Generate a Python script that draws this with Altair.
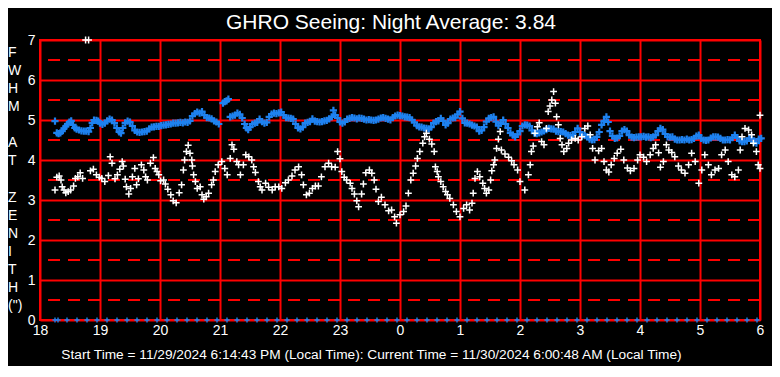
import json
import altair as alt
import pandas as pd

# ---- data (hours after 18:00, FWHM arcsec) ----
white_t = [0.25, 0.28, 0.32, 0.35, 0.37, 0.40, 0.43, 0.47, 0.51, 0.56, 0.59, 0.63, 0.67, 0.71, 0.76, 0.81,
           0.84, 0.89, 0.94, 0.99, 1.03, 1.08, 1.14, 1.17, 1.20, 1.25, 1.29, 1.33, 1.37, 1.39, 1.42, 1.44,
           1.48, 1.51, 1.54, 1.58, 1.61, 1.64, 1.69, 1.73, 1.76, 1.79, 1.84, 1.89, 1.92, 1.95, 1.98, 2.01,
           2.06, 2.09, 2.13, 2.18, 2.22, 2.27, 2.32, 2.36, 2.39, 2.41, 2.44, 2.47, 2.50, 2.53, 2.54, 2.56,
           2.59, 2.62, 2.67, 2.70, 2.73, 2.77, 2.81, 2.86, 2.89, 2.92, 2.97, 3.03, 3.08, 3.12, 3.17, 3.20,
           3.23, 3.28, 3.31, 3.34, 3.39, 3.43, 3.48, 3.53, 3.56, 3.59, 3.64, 3.67, 3.70, 3.76, 3.81, 3.87,
           3.92, 3.98, 4.03, 4.09, 4.14, 4.20, 4.25, 4.31,
           4.36, 4.39, 4.44, 4.49, 4.54, 4.59, 4.64, 4.69, 4.75, 4.81, 4.86, 4.92, 4.96, 5.00, 5.03, 5.07,
           5.11, 5.17, 5.20, 5.24, 5.28, 5.31, 5.36, 5.39, 5.43, 5.49, 5.53, 5.57, 5.60, 5.64, 5.69, 5.75,
           5.81, 5.86, 5.91, 5.94, 6.00, 6.06, 6.10, 6.14, 6.18, 6.22, 6.26, 6.29, 6.33, 6.38, 6.41, 6.44,
           6.49, 6.53, 6.57, 6.59, 6.62, 6.64, 6.68, 6.72, 6.76, 6.79, 6.83, 6.89, 6.94, 7.00, 7.06, 7.11,
           7.16, 7.20, 7.22, 7.25, 7.29, 7.33, 7.38, 7.41, 7.44, 7.48, 7.51, 7.53, 7.56, 7.58, 7.61, 7.64,
           7.67,
           7.69, 7.75, 7.81, 7.86, 7.90, 7.96, 8.00, 8.08, 8.14, 8.17, 8.19, 8.22, 8.25, 8.29, 8.32, 8.36,
           8.40, 8.44, 8.47, 8.50, 8.53, 8.56, 8.59, 8.61, 8.64, 8.67, 8.70, 8.73, 8.78, 8.81, 8.86, 8.92,
           8.97, 9.03, 9.08, 9.13, 9.17, 9.21, 9.25, 9.31, 9.36, 9.40, 9.44, 9.48, 9.52, 9.57, 9.62, 9.68,
           9.73, 9.79, 9.84, 9.90, 9.96, 10.00, 10.06, 10.11, 10.17, 10.22, 10.26, 10.31, 10.34, 10.39, 10.44, 10.48,
           10.53, 10.58, 10.64, 10.69, 10.75, 10.81, 10.86, 10.92, 10.98, 11.03, 11.08, 11.14, 11.19, 11.25, 11.31, 11.36,
           11.42, 11.47, 11.53, 11.58, 11.64, 11.67, 11.70, 11.75, 11.81, 11.86, 11.89, 11.94, 11.97, 12.00, 12.00]
white_v = [3.25, 3.57, 3.60, 3.50, 3.33, 3.25, 3.18, 3.21, 3.25, 3.35, 3.54, 3.58, 3.68, 3.54, 7.00, 7.00,
           3.73, 3.77, 3.63, 3.57, 3.54, 3.46, 3.61, 4.08, 3.92, 3.53, 3.63, 3.77, 3.96, 3.85, 3.52, 3.33,
           3.15, 3.29, 3.58, 3.79, 3.38, 3.53, 3.88, 3.75, 3.58, 3.50, 3.92, 4.06, 3.79, 3.71, 3.63, 3.48,
           3.50, 3.40, 3.27, 3.13, 2.98, 2.93, 3.18, 3.38, 3.75, 4.00, 4.21, 4.37, 4.17, 4.00, 3.85, 3.63,
           3.46, 3.29, 3.33, 3.13, 3.02, 3.08, 3.17, 3.38, 3.50, 3.71, 3.88, 3.96, 3.79, 3.63, 4.04, 4.38,
           4.27, 3.96, 3.88, 3.63, 3.88, 4.13, 4.08, 4.00, 3.83, 3.69, 3.46, 3.33, 3.25, 3.42, 3.32, 3.25,
           3.33, 3.33, 3.29, 3.43, 3.50, 3.60, 3.75, 3.83,
           3.63, 3.38, 3.13, 3.17, 3.29, 3.35, 3.35, 3.58, 3.83, 3.92, 3.83, 3.82, 4.21, 4.03, 3.71, 3.57,
           3.50, 3.42, 3.29, 3.15, 2.98, 2.83, 3.15, 3.40, 3.68, 3.75, 3.67, 3.50, 3.27, 2.96, 3.07, 2.88,
           2.73, 2.75, 2.58, 2.42, 2.63, 2.71, 2.85, 3.17, 3.50, 3.67, 3.85, 4.04, 4.21, 4.42, 4.58, 4.67,
           4.52, 4.40, 4.21, 3.83, 3.71, 3.58, 3.46, 3.33, 3.21, 3.13, 3.04, 2.88, 2.71, 2.58, 2.79, 2.88,
           2.75, 2.92, 3.17, 3.54, 3.71, 3.58, 3.42, 3.29, 3.17, 3.25, 3.50, 3.73, 3.88, 4.00, 4.29, 4.52,
           4.71,
           4.25, 4.15, 4.07, 3.98, 3.88, 3.75, 3.46, 3.25, 3.63, 3.88, 4.21, 4.35, 4.67, 4.83, 4.93, 4.46,
           4.38, 4.79, 5.21, 5.35, 5.50, 5.71, 5.42, 5.08, 4.88, 4.54, 4.38, 4.21, 4.29, 4.42, 4.50, 4.54,
           4.50, 4.58, 4.79, 4.85, 4.63, 4.29, 4.00, 4.23, 4.29, 3.96, 3.75, 3.70, 3.88, 4.04, 4.17, 4.27,
           4.00, 3.80, 3.73, 3.79, 4.00, 4.13, 4.07, 3.96, 4.13, 4.29, 4.38, 4.18, 3.82, 3.96, 4.38, 4.25,
           4.19, 4.08, 3.85, 3.75, 3.67, 3.88, 4.17, 3.96, 3.42, 3.75, 4.13, 3.88, 3.63, 3.75, 3.79, 4.13,
           4.25, 3.96, 3.63, 3.58, 3.75, 4.25, 4.58, 4.79, 4.75, 4.63, 4.42, 4.21, 3.88, 3.79, 5.12]

blue_t = [0.25, 0.28, 0.31, 0.34, 0.37, 0.40, 0.43, 0.46, 0.49, 0.52, 0.55, 0.58, 0.61, 0.65, 0.69, 0.73,
          0.77, 0.81, 0.84, 0.87, 0.90, 0.94, 0.97, 1.00, 1.04, 1.08, 1.12, 1.16, 1.20, 1.24, 1.28, 1.32,
          1.35, 1.38, 1.42, 1.46, 1.50, 1.54, 1.58, 1.62, 1.66, 1.70, 1.74, 1.78, 1.82, 1.86, 1.90, 1.94,
          1.98, 2.02, 2.06, 2.10, 2.14, 2.18, 2.22, 2.26, 2.30, 2.34, 2.38, 2.42, 2.46, 2.50, 2.54, 2.58,
          2.62, 2.66, 2.70, 2.74, 2.78, 2.82, 2.86, 2.90, 2.94, 2.98, 3.05, 3.08, 3.11, 3.14, 3.17, 3.21,
          3.25, 3.29, 3.33, 3.37, 3.41, 3.44, 3.47, 3.50, 3.54, 3.58, 3.62, 3.66, 3.70, 3.74, 3.78, 3.82,
          3.86, 3.90, 3.94, 3.98, 4.02, 4.06, 4.10, 4.14, 4.18, 4.22, 4.26, 4.30, 4.34, 4.38, 4.42, 4.46,
          4.50, 4.54, 4.58, 4.62, 4.66, 4.70, 4.74, 4.78, 4.82, 4.86, 4.89, 4.92, 4.96, 5.00, 5.04, 5.08,
          5.12, 5.16, 5.20, 5.24, 5.28, 5.32, 5.36, 5.40, 5.44, 5.48, 5.52, 5.56, 5.60, 5.64, 5.68, 5.72,
          5.76, 5.80, 5.84, 5.88, 5.92, 5.96, 6.00, 6.04, 6.08, 6.12, 6.16, 6.20, 6.24, 6.28, 6.32, 6.36,
          6.40, 6.44, 6.48, 6.52, 6.56, 6.60, 6.64, 6.68, 6.72, 6.76, 6.80, 6.84, 6.88, 6.92, 6.96, 7.00,
          7.04, 7.08, 7.12, 7.16, 7.20, 7.24, 7.28, 7.32, 7.36, 7.40, 7.44, 7.48, 7.52, 7.56, 7.60, 7.64,
          7.68, 7.72, 7.76, 7.80, 7.84, 7.88, 7.92, 7.96, 8.00, 8.04, 8.08, 8.12, 8.16, 8.20, 8.24, 8.28,
          8.32, 8.36, 8.40, 8.44, 8.48, 8.52, 8.56, 8.60, 8.64, 8.68, 8.72, 8.76, 8.80, 8.84, 8.88, 8.92,
          8.96, 9.00, 9.04, 9.08, 9.12, 9.16, 9.20, 9.24, 9.28, 9.32, 9.36, 9.40, 9.44, 9.47, 9.50, 9.54,
          9.58, 9.62, 9.66, 9.70, 9.74, 9.78, 9.82, 9.86, 9.90, 9.94, 9.98, 10.02, 10.06, 10.10, 10.14, 10.18,
          10.22, 10.26, 10.30, 10.34, 10.38, 10.42, 10.46, 10.50, 10.54, 10.58, 10.62, 10.66, 10.70, 10.74, 10.78, 10.82,
          10.86, 10.90, 10.94, 10.98, 11.02, 11.06, 11.10, 11.14, 11.18, 11.22, 11.26, 11.30, 11.34, 11.38, 11.42, 11.46,
          11.50, 11.54, 11.58, 11.62, 11.66, 11.70, 11.74, 11.78, 11.82, 11.86, 11.90, 11.94, 11.98, 12.02]
blue_v = [4.97, 4.68, 4.66, 4.68, 4.72, 4.79, 4.84, 4.90, 4.95, 4.98, 4.88, 4.80, 4.77, 4.75, 4.73, 4.72,
          4.72, 4.71, 4.80, 4.93, 5.00, 4.99, 4.97, 4.92, 4.89, 4.92, 4.98, 5.02, 5.00, 4.92, 4.80, 4.70,
          4.67, 4.80, 4.93, 4.97, 4.95, 4.85, 4.74, 4.70, 4.69, 4.70, 4.71, 4.72, 4.78, 4.82, 4.83, 4.84,
          4.84, 4.86, 4.87, 4.88, 4.89, 4.90, 4.92, 4.92, 4.93, 4.94, 4.93, 4.95, 4.94, 4.98, 5.10, 5.16,
          5.20, 5.17, 5.21, 5.12, 5.06, 5.05, 5.03, 4.98, 4.95, 4.90, 5.42, 5.46, 5.48, 5.52, 5.08, 5.10,
          5.12, 5.17, 5.14, 5.05, 4.90, 4.80, 4.76, 4.82, 4.90, 4.92, 4.94, 5.02, 4.96, 4.92, 4.94, 5.08,
          5.15, 5.17, 5.16, 5.18, 5.20, 5.12, 5.06, 5.05, 5.04, 5.02, 4.90, 4.80, 4.78, 4.82, 4.92, 4.94,
          4.96, 5.03, 4.97, 4.96, 4.95, 4.96, 4.98, 4.99, 5.03, 5.08, 5.24, 5.12, 5.05, 4.95, 4.92, 4.95,
          5.02, 5.04, 5.06, 5.05, 5.03, 5.05, 5.04, 5.02, 5.00, 5.01, 5.00, 4.99, 5.00, 5.02, 5.05, 5.06,
          5.04, 5.02, 5.00, 5.06, 5.10, 5.12, 5.11, 5.10, 5.08, 5.07, 5.06, 5.00, 4.94, 4.86, 4.83, 4.82,
          4.80, 4.79, 4.78, 4.82, 4.92, 4.96, 4.98, 5.04, 4.98, 4.88, 4.92, 5.02, 5.05, 5.06, 5.14, 5.21,
          5.04, 4.93, 4.92, 4.90, 4.87, 4.85, 4.82, 4.72, 4.74, 4.82, 4.96, 5.04, 5.06, 5.08, 4.96, 4.86,
          4.92, 5.00, 4.90, 4.80, 4.68, 4.62, 4.58, 4.64, 4.72, 4.85, 4.88, 4.87, 4.85, 4.74, 4.67, 4.66,
          4.68, 4.70, 4.73, 4.76, 4.79, 4.78, 4.77, 4.72, 4.71, 4.71, 4.70, 4.66, 4.62, 4.61, 4.62, 4.70,
          4.79, 4.70, 4.63, 4.61, 4.58, 4.52, 4.50, 4.51, 4.58, 4.70, 4.88, 4.98, 5.08, 4.95, 4.72, 4.60,
          4.54, 4.55, 4.60, 4.72, 4.76, 4.72, 4.62, 4.57, 4.56, 4.57, 4.58, 4.58, 4.59, 4.57, 4.58, 4.56,
          4.58, 4.62, 4.72, 4.79, 4.76, 4.65, 4.58, 4.57, 4.58, 4.52, 4.50, 4.50, 4.51, 4.50, 4.52, 4.50,
          4.51, 4.54, 4.60, 4.62, 4.54, 4.50, 4.49, 4.50, 4.55, 4.58, 4.58, 4.57, 4.54, 4.50, 4.50, 4.51,
          4.50, 4.56, 4.62, 4.56, 4.48, 4.46, 4.46, 4.48, 4.54, 4.54, 4.45, 4.42, 4.52, 4.54]

# flag markers drawn on the zero line (minutes after 18:00)
zero_min = [15, 18, 27, 37, 47, 57, 67, 77, 87, 97, 107, 117, 127, 137, 147, 157, 167, 177, 187, 197,
            207, 217, 227, 237, 247, 257, 267, 277, 287, 297, 307, 317, 327, 337, 347, 357, 367, 377, 387, 397,
            407, 417, 427, 437, 447, 457, 467, 477, 487, 497, 507, 517, 527, 537, 547, 557, 567, 577, 587, 597,
            607, 617, 627, 637, 647, 657, 667, 677, 687, 697, 707, 717]

hour_labels = ["18", "19", "20", "21", "22", "23", "0", "1", "2", "3", "4", "5", "6"]
y_major = [0, 1, 2, 3, 4, 5, 6, 7]
y_half = [0.5, 1.5, 2.5, 3.5, 4.5, 5.5, 6.5]
y_title = ["F", "W", "H", "M", "", "A", "T", "", "Z", "E", "N", "I", "T", "H", "(\")"]

title_text = "GHRO Seeing: Night Average: 3.84"
footer_text = ("Start Time = 11/29/2024 6:14:43 PM (Local Time): "
               "Current Time = 11/30/2024 6:00:48 AM (Local Time)")

FONT = "Liberation Sans"
PLUS = "M-1,0L1,0M0,-1L0,1"
RED = "#ff0000"
BLUE = "#1e82f0"

df_white = pd.DataFrame({"t": white_t, "v": white_v})
df_blue = pd.DataFrame({"t": blue_t, "v": blue_v})
df_zero = pd.DataFrame({"t": [m / 60 for m in zero_min], "v": [0] * len(zero_min)})
df_half = pd.DataFrame({"v": y_half})
df_ytitle = pd.DataFrame({"row": list(range(len(y_title))), "ch": y_title})

x_enc = alt.X(
    "t:Q",
    scale=alt.Scale(domain=[0, 12], nice=False, zero=False),
    axis=alt.Axis(
        values=list(range(len(hour_labels))),
        labelExpr=json.dumps(hour_labels) + "[datum.value]",
        grid=True, gridColor=RED, gridWidth=2,
        ticks=False, domain=False,
        labelColor="white", labelFont=FONT, labelFontSize=14, labelPadding=3,
        labelFlush=False,
        title=footer_text, titleColor="white", titleFont=FONT, titleFontSize=13.7,
        titleFontWeight="normal", titleX=331, titleY=34, titleBaseline="middle",
        titleAlign="center", titleAnchor="start",
    ),
)
y_enc = alt.Y(
    "v:Q",
    scale=alt.Scale(domain=[0, 7], nice=False),
    axis=alt.Axis(
        values=y_major,
        grid=True, gridColor=RED, gridWidth=2,
        ticks=False, domain=False,
        labelColor="white", labelFont=FONT, labelFontSize=14, labelPadding=5,
        labelFlush=False, title="",
    ),
)

half_rules = alt.Chart(df_half).mark_rule(
    color=RED, strokeWidth=2, strokeDash=[12, 8]
).encode(y=y_enc)

white_pts = alt.Chart(df_white).mark_point(
    shape=PLUS, filled=False, color="white", size=46, strokeWidth=1.5, opacity=1, clip=False
).encode(x=x_enc, y=y_enc)

blue_pts = alt.Chart(df_blue).mark_point(
    shape=PLUS, filled=False, color=BLUE, size=52, strokeWidth=2.2, opacity=1
).encode(x=x_enc, y=y_enc)

zero_pts = alt.Chart(df_zero).mark_point(
    shape=PLUS, filled=False, color=BLUE, size=26, strokeWidth=1.4, opacity=1
).encode(x=x_enc, y=y_enc)

data_layers = alt.layer(half_rules, blue_pts, white_pts, zero_pts)

# vertical, letter-by-letter y-axis title
ytitle = alt.Chart(df_ytitle).mark_text(
    align="left", baseline="middle", color="white", font=FONT, fontSize=14
).encode(
    text="ch:N",
    x=alt.value(-32),
    y=alt.Y("row:Q", scale=alt.Scale(domain=[0, len(y_title) - 1], range=[13, 266]), axis=None),
)

chart = alt.layer(data_layers, ytitle).resolve_scale(
    y="independent"
).properties(
    width=720, height=280,
    padding={"left": 32, "top": 32, "right": 12, "bottom": 46},
    autosize=alt.AutoSizeParams(type="none"),
    background="black",
    title=alt.Title(title_text, color="white", font=FONT, fontSize=21,
                    fontWeight="normal", anchor="middle", frame="group",
                    offset=0, dx=-9),
).configure_view(stroke=RED, strokeWidth=2)

chart.save("out.html", embed_options={"renderer": "svg", "actions": False})
